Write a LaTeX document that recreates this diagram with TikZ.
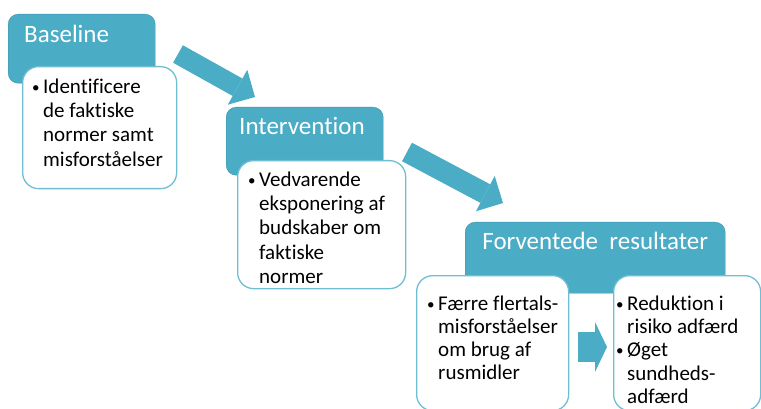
\documentclass[tikz,border=0pt]{standalone}
\usepackage{fontspec}
\setmainfont[Ligatures=NoCommon]{Carlito}
\usetikzlibrary{positioning}
\usetikzlibrary{arrows.meta}

\definecolor{smartteal}{RGB}{75,172,198}
\definecolor{smartedge}{RGB}{60,148,172}
\definecolor{boxedge}{RGB}{112,190,212}

\newcommand{\bul}{\strut\makebox[11pt][l]{\raisebox{1pt}{\fontsize{15}{15}\selectfont•}}}
\newcommand{\ind}{\hspace*{11pt}}

\begin{document}
\begin{tikzpicture}
  [x=1pt, y=-1pt,
   titlebox/.style={rectangle, rounded corners=10pt, draw=smartedge, fill=smartteal, anchor=north west, inner sep=0pt},
   textbox/.style={rectangle, rounded corners=16pt, draw=boxedge, line width=1.3pt, fill=white, anchor=north west, inner sep=0pt},
   titletext/.style={inner sep=0pt, anchor=base west, text=white, font=\fontsize{25}{30}\selectfont},
   bullets/.style={inner sep=0pt, anchor=north west, align=left, font=\fontsize{21}{24.3}\selectfont},
   blockarrow/.style={draw=smartteal, line width=20pt, -{Triangle[length=20pt, width=40pt, line width=0pt]}}]
  \clip (0,0) rectangle (761,409);
  % baseline
  \node[titlebox, minimum width=147pt, minimum height=69pt] (baseline) at (8,14) {};
  \node[titletext] (baselinetitle) at ([xshift=16pt, yshift=-29pt]baseline.north west) {Baseline};
  \node[textbox, minimum width=154pt, minimum height=122pt] (baselinebox) at (22,66) {};
  \node[bullets] (baselinetext) at ([xshift=10pt, yshift=-10pt]baselinebox.north west)
    {\bul Identificere\\ \ind de faktiske\\ \ind normer samt\\ \ind misforståelser};
  % intervention
  \node[titlebox, minimum width=157pt, minimum height=68pt] (intervention) at (226,107) {};
  \node[titletext] (interventiontitle) at ([xshift=13pt, yshift=-28pt]intervention.north west) {Intervention};
  \node[textbox, minimum width=168pt, minimum height=128pt] (interventionbox) at (237,160) {};
  \node[bullets] (interventiontext) at ([xshift=11pt, yshift=-9pt]interventionbox.north west)
    {\bul Vedvarende\\ \ind eksponering af\\ \ind budskaber om\\ \ind faktiske\\ \ind normer};
  % forventede resultater
  \node[titlebox, minimum width=260pt, minimum height=71pt] (results) at (465,222) {};
  \node[titletext, anchor=base] (resultstitle) at ([yshift=-28pt]results.north) {Forventede\ \ resultater};
  \node[textbox, minimum width=152pt, minimum height=135pt] (misbox) at (416,275) {};
  \node[bullets, font=\fontsize{21}{23}\selectfont] (mistext) at ([xshift=11pt, yshift=-19pt]misbox.north west)
    {\bul Færre flertals-\\ \ind misforståelser\\ \ind om brug af\\ \ind rusmidler};
  \node[textbox, minimum width=147pt, minimum height=135pt] (effectbox) at (613,275) {};
  \node[bullets, font=\fontsize{21}{23.2}\selectfont] (effecttext) at ([xshift=3pt, yshift=-19pt]effectbox.north west)
    {\bul Reduktion i\\ \ind risiko adfærd\\ \bul Øget\\ \ind sundheds-\\ \ind adfærd};
  % pile
  \coordinate (a1s) at (178,54);
  \coordinate (a1e) at (255,97);
  \draw[blockarrow] (a1s) -- (a1e);
  \coordinate (a2s) at (407,152);
  \coordinate (a2e) at (503,203);
  \draw[blockarrow, line width=21pt] (a2s) -- (a2e);
  \coordinate (a3s) at (578,347);
  \coordinate (a3e) at (607,347);
  \draw[blockarrow, line width=30pt, -{Triangle[length=12pt, width=50pt, line width=0pt]}] (a3s) -- (a3e);
\end{tikzpicture}
\end{document}
